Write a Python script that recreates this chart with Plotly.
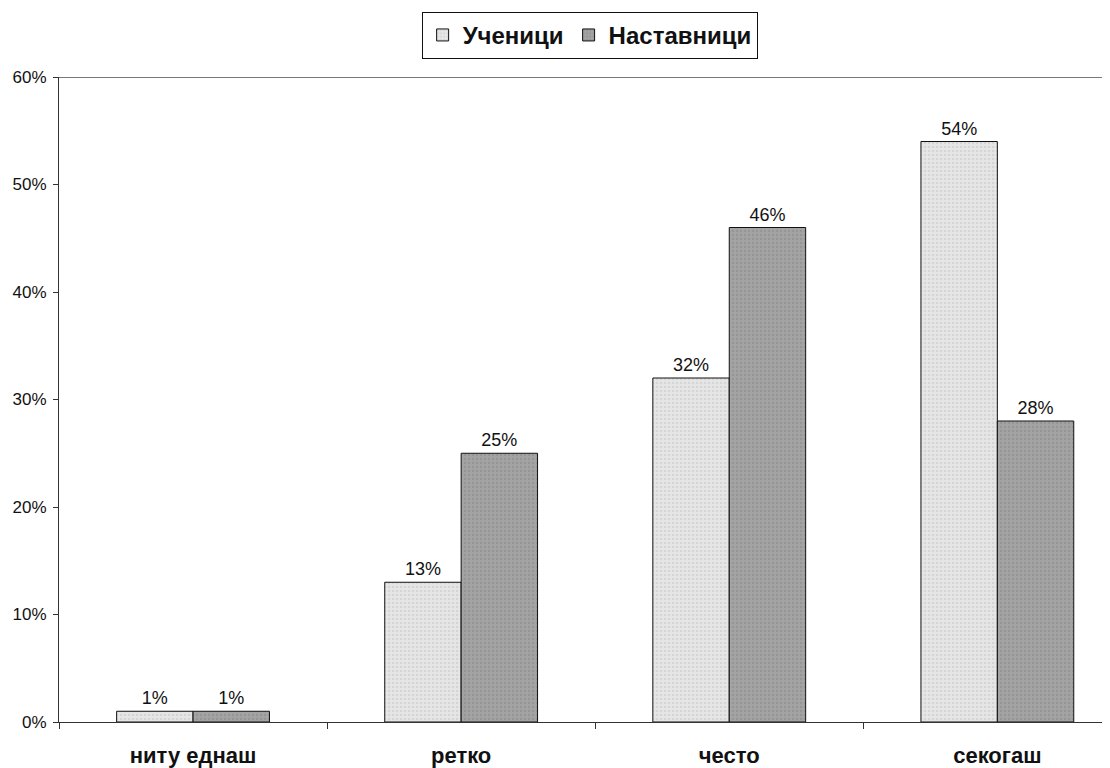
import plotly.graph_objects as go

categories = ["ниту еднаш", "ретко", "често", "секогаш"]
ucenici = [1, 13, 32, 54]
nastavnici = [1, 25, 46, 28]
y_ticks = [0, 10, 20, 30, 40, 50, 60]

_FONT = "Liberation Sans, Arial, sans-serif"

fig = go.Figure()
for name, vals, bg, fg in [
    ("Ученици", ucenici, "#e6e6e6", "#c4c4c4"),
    ("Наставници", nastavnici, "#a4a4a4", "#858585"),
]:
    fig.add_trace(go.Bar(
        x=categories, y=vals, name=name,
        text=[f"{v}%" for v in vals], textposition="outside",
        constraintext="none",
        textfont={"size": 18, "color": "#111", "family": _FONT},
        cliponaxis=False,
        marker={"color": bg, "line": {"color": "#111", "width": 1},
                "pattern": {"shape": ".", "fgcolor": fg, "bgcolor": bg,
                            "size": 4, "solidity": 0.3}},
    ))

fig.update_layout(
    width=1110, height=768,
    paper_bgcolor="white", plot_bgcolor="white",
    barmode="group", bargap=0.43, bargroupgap=0,
    margin={"l": 51, "r": 0, "t": 69, "b": 54, "autoexpand": False},
    font={"family": _FONT, "color": "#111"},
    showlegend=True,
    legend={"orientation": "h", "x": 0.524, "xanchor": "center", "xref": "container",
            "y": 0.995, "yanchor": "top", "yref": "container",
            "font": {"size": 24, "family": _FONT, "weight": "bold"},
            "bordercolor": "#111", "borderwidth": 1, "bgcolor": "white",
            "itemwidth": 30, "tracegroupgap": 0},
    xaxis={"range": [-0.5, 3.45], "showline": True, "linecolor": "#333", "linewidth": 1,
           "ticks": "outside", "tickson": "boundaries", "ticklen": 6, "tickcolor": "#333",
           "tickangle": 0, "automargin": False, "ticklabelstandoff": 14,
           "tickfont": {"size": 22, "weight": "bold"}, "showgrid": False},
    yaxis={"range": [0, 60], "tickvals": y_ticks, "ticktext": [f"{t}%" for t in y_ticks],
           "showline": True, "linecolor": "#333", "linewidth": 1,
           "ticks": "outside", "ticklen": 5, "tickcolor": "#333", "automargin": False,
           "ticklabelstandoff": 3,
           "tickfont": {"size": 17}, "showgrid": False, "zeroline": False},
)
fig.add_shape(type="line", xref="paper", yref="y", x0=0, x1=1, y0=60, y1=60,
              line={"color": "#777", "width": 2})

fig.write_html("out.html")
